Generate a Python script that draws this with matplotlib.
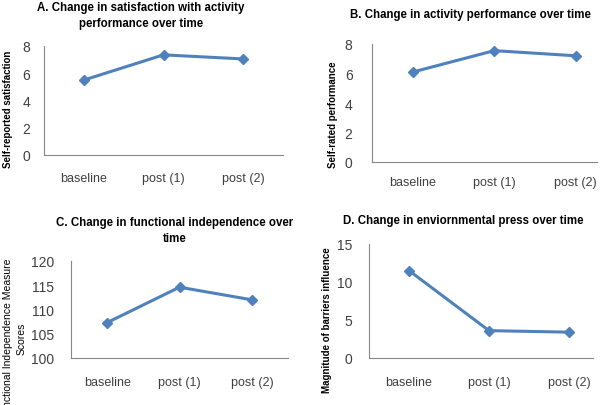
import numpy as np
import matplotlib
matplotlib.use("Agg")
import matplotlib.pyplot as plt

plt.rcParams['font.family'] = ['Liberation Sans Narrow', 'Liberation Sans', 'DejaVu Sans']

categories = ["baseline", "post (1)", "post (2)"]
satisfaction = [5.5, 7.35, 7.05]
performance = [6.1, 7.55, 7.2]
independence = [107.3, 114.6, 112.0]
env_press = [11.5, 3.6, 3.4]

W, H = 601, 406
fig = plt.figure(figsize=(W / 100, H / 100), dpi=100)

blue = "#4F81BD"
grey = "#868686"


def box(l, r, t, b):
    return [l / W, (H - b) / H, (r - l) / W, (b - t) / H]


def panel(rect, values, yticks, xlim, ypad, xpad):
    ax = fig.add_axes(rect)
    x = np.arange(len(categories))
    ax.plot(x, values, color=blue, lw=2.2, marker="D", ms=5.5, zorder=3)
    ax.set_xlim(*xlim)
    ax.set_ylim(yticks[0], yticks[-1])
    ax.set_yticks(yticks)
    ax.set_xticks(x)
    ax.set_xticklabels(categories)
    for s in ["top", "right"]:
        ax.spines[s].set_visible(False)
    for s in ["left", "bottom"]:
        ax.spines[s].set_color(grey)
        ax.spines[s].set_linewidth(0.8)
    ax.tick_params(axis="y", length=0, pad=ypad, labelsize=10, labelcolor="#404040")
    ax.tick_params(axis="x", length=0, pad=xpad, labelsize=9, labelcolor="#404040")
    return ax


panel(box(44, 283, 47, 156), satisfaction, [0, 2, 4, 6, 8], (-0.5, 2.5), 10, 12)
panel(box(372, 597, 45, 163), performance, [0, 2, 4, 6, 8], (-0.5, 2.26), 14, 10)
panel(box(71, 288, 262, 359), independence, [100, 105, 110, 115, 120], (-0.5, 2.5), 12, 13)
panel(box(369, 593, 245, 359), env_press, [0, 5, 10, 15], (-0.5, 2.3), 12, 13)

tkw = dict(fontsize=8.3, fontweight="bold", ha="center", va="center")
fig.text(141 / W, 1 - 8 / H, "A. Change in satisfaction with activity", **tkw)
fig.text(141 / W, 1 - 24 / H, "performance over time", **tkw)
fig.text(470 / W, 1 - 15 / H, "B. Change in activity performance over time", **tkw)
fig.text(175 / W, 1 - 223 / H, "C. Change in functional independence over", **tkw)
fig.text(175 / W, 1 - 239 / H, "time", **tkw)
fig.text(463 / W, 1 - 221 / H, "D. Change in enviornmental press over time", **tkw)

lkw = dict(fontsize=7, fontweight="bold", rotation=90, ha="center", va="center")
fig.text(8 / W, 1 - 109 / H, "Self-reported satisfaction", **lkw)
fig.text(333 / W, 1 - 115 / H, "Self-rated performance", **lkw)
fig.text(327 / W, 1 - 320 / H, "Magnitude of barriers influence", **lkw)
# the reference cuts this label at the left edge of the picture
fig.text(15 / W, 1 - 339 / H, "Functional Independence Measure\nScores",
         fontsize=7.5, rotation=90, ha="center", va="center",
         linespacing=1.4, multialignment="center")

fig.savefig("out.png", dpi=100)
